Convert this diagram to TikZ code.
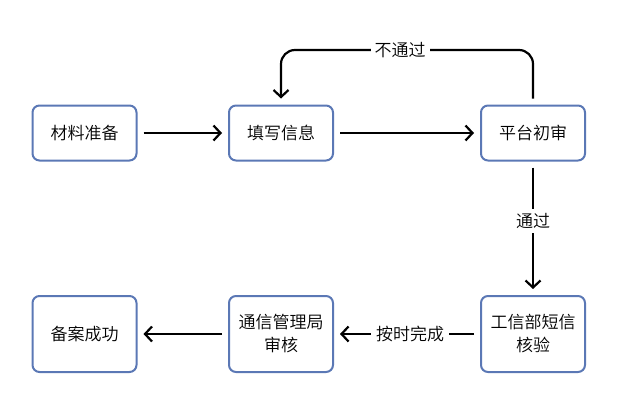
\documentclass[tikz,border=0pt]{standalone}
\usepackage{fontspec}
\setmainfont{Noto Sans CJK SC}[UprightFont={* DemiLight}]
\usetikzlibrary{arrows.meta}
\definecolor{boxblue}{HTML}{5B78B5}
\begin{document}
\begin{tikzpicture}[x=1pt,y=-1pt,
  box/.style={draw=boxblue,line width=2pt,rounded corners=7pt,minimum width=104pt,minimum height=55pt,inner sep=0pt,align=center,font=\fontsize{17}{23}\selectfont},
  conn/.style={line width=2.2pt,-{Straight Barb[length=7pt,width=15pt,line width=2.2pt]}},
  lbl/.style={font=\fontsize{17}{20}\selectfont,fill=white,inner sep=4pt}]
\useasboundingbox (0,0) rectangle (617,404);
\node[box] (a) at (84.5,133) {材料准备};
\node[box] (b) at (281,133) {填写信息};
\node[box] (c) at (533,133) {平台初审};
\node[box,minimum height=76pt] (f) at (84.5,334) {备案成功};
\node[box,minimum height=76pt] (e) at (281,334) {通信管理局\\审核};
\node[box,minimum height=76pt] (d) at (533,334) {工信部短信\\核验};
\draw[conn] ([xshift=6pt]a.east) -- ([xshift=-6pt]b.west);
\draw[conn] ([xshift=6pt]b.east) -- ([xshift=-6pt]c.west);
\coordinate (t1) at (533,50);
\coordinate (t2) at (281,50);
\draw[conn,rounded corners=14pt] ([yshift=6pt]c.north) -- (t1) -- (t2) -- ([yshift=6pt]b.north);
\node[lbl] (n1) at (400,50) {不通过};
\draw[conn] ([yshift=-6pt]c.south) -- ([yshift=6pt]d.north);
\node[lbl] (n2) at (533,221) {通过};
\draw[conn] ([xshift=-6pt]d.west) -- ([xshift=6pt]e.east);
\node[lbl,inner sep=5pt] (n3) at (410,334) {按时完成};
\draw[conn] ([xshift=-6pt]e.west) -- ([xshift=6pt]f.east);
\end{tikzpicture}
\end{document}
